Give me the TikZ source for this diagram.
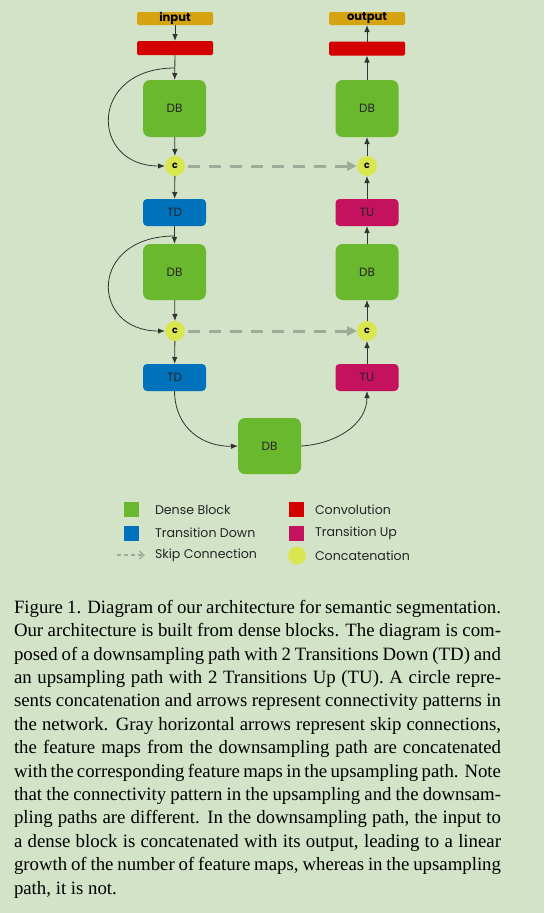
\documentclass[tikz,border=0pt]{standalone}
\usepackage{fontspec}
\setmainfont{Liberation Serif}
\newfontfamily\gfont{Poppins}
\usetikzlibrary{arrows.meta}
\definecolor{bg}{RGB}{211,227,199}
\definecolor{cinput}{RGB}{214,164,16}
\definecolor{cconv}{RGB}{212,0,0}
\definecolor{cdb}{RGB}{106,184,46}
\definecolor{ctd}{RGB}{0,114,188}
\definecolor{ctu}{RGB}{197,18,94}
\definecolor{ccat}{RGB}{218,230,80}
\definecolor{cskip}{RGB}{160,170,152}
\begin{document}
\begin{tikzpicture}[x=1pt,y=-1pt,
  every node/.style={inner sep=0pt,outer sep=0pt},
  lbl/.style={font=\gfont\fontsize{12}{14}\selectfont, text=black!85},
  iobox/.style={fill=cinput, rounded corners=1.5pt, minimum width=76pt, minimum height=13pt, font=\gfont\bfseries\fontsize{11.5}{12}\selectfont},
  convbox/.style={fill=cconv, rounded corners=1.5pt, minimum width=76pt, minimum height=14pt},
  dbbox/.style={fill=cdb, rounded corners=7pt, minimum width=63pt, minimum height=57pt, lbl},
  tdbox/.style={fill=ctd, rounded corners=4pt, minimum width=63pt, minimum height=27pt, lbl},
  tubox/.style={fill=ctu, rounded corners=4pt, minimum width=63pt, minimum height=27pt, lbl},
  catnode/.style={circle, fill=ccat, minimum size=20pt, font=\gfont\bfseries\fontsize{9.5}{10}\selectfont},
  conn/.style={draw=black!80, line width=0.8pt, -{Latex[length=7pt,width=5.5pt]}},
  skip/.style={draw=cskip, line width=3pt, dash pattern=on 12pt off 9pt, -{Triangle[length=10pt,width=9pt]}},
  legtext/.style={anchor=west, font=\gfont\fontsize{12.6}{14}\selectfont, text=black!85},
  legsq/.style={minimum width=15pt, minimum height=15pt}
]
\fill[bg] (0,0) rectangle (544,913);
\useasboundingbox (0,0) rectangle (544,913);

% left column
\node[iobox] (in) at (175,18.5) {input};
\node[convbox] (convL) at (175,48) {};
\node[dbbox] (db1) at (174.5,108.5) {DB};
\node[catnode] (c1) at (175,166) {c};
\node[tdbox] (td1) at (174.5,212.5) {TD};
\node[dbbox, minimum height=56pt] (db2) at (174.5,272) {DB};
\node[catnode] (c2) at (175,331) {c};
\node[tdbox] (td2) at (174.5,377.5) {TD};
\node[dbbox, minimum height=56pt] (dbb) at (269.5,446) {DB};

% right column
\node[iobox] (out) at (367,18.5) {output};
\node[convbox] (convR) at (367,48.5) {};
\node[dbbox] (dbr1) at (367,108.5) {DB};
\node[catnode] (cr1) at (367,166) {c};
\node[tubox] (tu1) at (367,212.5) {TU};
\node[dbbox, minimum height=56pt] (dbr2) at (367,272) {DB};
\node[catnode] (cr2) at (367,331) {c};
\node[tubox] (tu2) at (367,377.5) {TU};

% down path
\draw[conn] (in) -- (convL);
\draw[conn] (convL) -- (db1);
\draw[conn] (db1) -- (c1);
\draw[conn] (c1) -- (td1);
\draw[conn] (td1) -- (db2);
\draw[conn] (db2) -- (c2);
\draw[conn] (c2) -- (td2);
\coordinate (s1) at (175,68);
\coordinate (s2) at (175,236);
\draw[conn] (s1) .. controls (88,68) and (90,166) .. (c1.west);
\draw[conn] (s2) .. controls (88,236) and (90,331) .. (c2.west);
\draw[conn] (td2.south) .. controls (175,430) and (205,447) .. (dbb.west);
\draw[conn] (dbb.east) .. controls (335,444) and (367,425) .. (tu2.south);

% up path
\draw[conn] (tu2) -- (cr2);
\draw[conn] (cr2) -- (dbr2);
\draw[conn] (dbr2) -- (tu1);
\draw[conn] (tu1) -- (cr1);
\draw[conn] (cr1) -- (dbr1);
\draw[conn] (dbr1) -- (convR);
\draw[conn] (convR) -- (out);

% skip connections
\draw[skip] (c1.east) ++(3,0) -- (cr1.west);
\draw[skip] (c2.east) ++(3,0) -- (cr2.west);

% legend
\node[legsq, fill=cdb] (lg1) at (131.5,509.5) {};
\node[legtext] (lt1) at (155,509.5) {Dense Block};
\node[legsq, fill=ctd] (lg2) at (131.5,533) {};
\node[legtext] (lt2) at (155,533) {Transition Down};
\coordinate (la) at (117,555);
\coordinate (lb) at (145,555);
\draw[draw=cskip, line width=1.2pt, dash pattern=on 4pt off 3pt, -{Straight Barb[length=5pt,width=8pt]}] (la) -- (lb);
\node[legtext] (lt3) at (155,555.5) {Skip Connection};
\node[legsq, fill=cconv] (lg4) at (296.5,509.5) {};
\node[legtext] (lt4) at (315,509.5) {Convolution};
\node[legsq, fill=ctu] (lg5) at (296.5,533) {};
\node[legtext] (lt5) at (315,533) {Transition Up};
\node[circle, fill=ccat, minimum size=18pt] (lg6) at (297,555.5) {};
\node[legtext] (lt6) at (315,555.5) {Concatenation};

% caption
\node[anchor=north west, text width=487pt, align=justify,
  font=\fontsize{18.8}{23.4}\selectfont] (cap) at (14,600) {%
\tolerance=10000\hyphenpenalty=10000
Figure 1. Diagram of our architecture for semantic segmentation.\linebreak
Our architecture is built from dense blocks.  The diagram is com-\linebreak
posed of a downsampling path with 2 Transitions Down (TD) and\linebreak
an upsampling path with 2 Transitions Up (TU). A circle repre-\linebreak
sents concatenation and arrows represent connectivity patterns in\linebreak
the network.  Gray horizontal arrows represent skip connections,\linebreak
the feature maps from the downsampling path are concatenated\linebreak
with the corresponding feature maps in the upsampling path. Note\linebreak
that the connectivity pattern in the upsampling and the downsam-\linebreak
pling paths are different.  In the downsampling path, the input to\linebreak
a dense block is concatenated with its output, leading to a linear\linebreak
growth of the number of feature maps, whereas in the upsampling\linebreak
path, it is not.};
\end{tikzpicture}
\end{document}
